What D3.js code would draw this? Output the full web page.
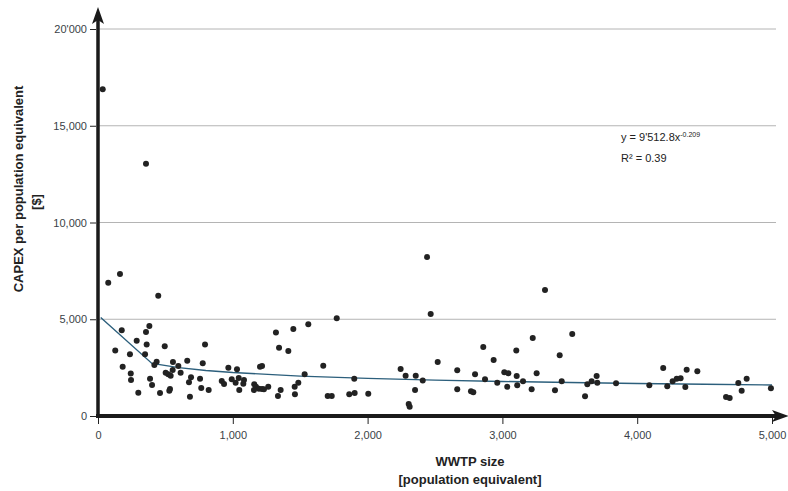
<!DOCTYPE html>
<html>
<head>
<meta charset="utf-8">
<script src="https://cdn.jsdelivr.net/npm/d3@7"></script>
<style>
  body { margin: 0; background: #fff; }
  svg { display: block; font-family: "Liberation Sans", Arial, sans-serif; }
</style>
</head>
<body>
<div id="chart"></div>
<script>
// WWTP size (population equivalent) vs CAPEX per PE ($)
const plantSize = [35, 76, 163, 356, 447, 176, 381, 356, 287, 361, 495, 794, 128, 237, 349, 183, 435, 418, 556, 596,
  662, 777, 243, 245, 386, 401, 502, 521, 539, 554, 613, 690, 675, 757, 766, 821, 299, 460, 534, 529,
  682, 967, 1031, 918, 935, 992, 1021, 1044, 1083, 1078, 1048, 1202, 1217, 1159, 1172, 1194, 1157, 1217, 1263, 1320,
  1343, 1449, 1412, 1560, 1771, 2468, 1671, 1533, 1231, 1355, 1335, 1459, 1486, 1461, 1704, 1734, 1864, 1904, 2005, 1901,
  2245, 2282, 2357, 2409, 2352, 2305, 2312, 2520, 2665, 2665, 2441, 3316, 2858, 2935, 2797, 2871, 2767, 2784, 3014, 3044,
  3106, 2962, 3036, 3110, 3153, 3103, 3225, 3254, 3217, 3390, 3425, 3440, 3518, 3613, 3630, 3662, 3699, 3704, 3843, 4090,
  4193, 4223, 4263, 4293, 4322, 4367, 4357, 4446, 4659, 4686, 4750, 4775, 4812, 4992];
const capexPerPE = [16890, 6890, 7340, 13030, 6220, 4430, 4650, 4340, 3890, 3690, 3600, 3690, 3380, 3190, 3190, 2550, 2810, 2640, 2790, 2590,
  2860, 2720, 2190, 1860, 1930, 1600, 2240, 2160, 2080, 2380, 2240, 2000, 1740, 1930, 1450, 1350, 1200, 1190, 1400, 1310,
  1000, 2500, 2410, 1810, 1650, 1900, 1720, 1960, 1860, 1670, 1340, 2550, 2590, 1640, 1510, 1410, 1340, 1400, 1510, 4310,
  3530, 4500, 3360, 4740, 5050, 5270, 2600, 2160, 1380, 1340, 1030, 1510, 1720, 1120, 1030, 1030, 1120, 1190, 1150, 1930,
  2430, 2080, 2080, 1830, 1340, 620, 480, 2790, 2360, 1380, 8220, 6510, 3570, 2900, 2160, 1900, 1280, 1230, 2260, 2210,
  2070, 1720, 1510, 1590, 1790, 3380, 4030, 2210, 1380, 1330, 3140, 1790, 4240, 1020, 1640, 1790, 2070, 1720, 1690, 1590,
  2480, 1540, 1790, 1930, 1950, 2390, 1500, 2310, 980, 930, 1710, 1310, 1930, 1430];

// power trend line y = 9512.8 x^-0.209, sampled
const trendX = [20, 400, 600, 800, 1000, 1500, 2000, 2500, 3000, 3500, 4000, 4500, 5000];
const trendY = [5087, 2718, 2498, 2352, 2245, 2063, 1943, 1854, 1785, 1728, 1680, 1640, 1604];

const xTicks = [0, 1000, 2000, 3000, 4000, 5000];
const yTicks = [0, 5000, 10000, 15000, 20000];
const yTickLabels = ["0", "5,000", "10,000", "15,000", "20'000"];

const width = 788, height = 491;
const margin = {top: 29, right: 16, bottom: 75, left: 98};

const svg = d3.select("#chart").append("svg")
    .attr("width", width)
    .attr("height", height)
    .attr("viewBox", [0, 0, width, height]);

const x = d3.scaleLinear().domain([0, 5000]).range([98, 772]);
const y = d3.scaleLinear().domain([0, 20000]).range([416, 29]);

// gridlines
svg.append("g")
  .selectAll("line")
  .data(yTicks.filter(d => d > 0))
  .join("line")
    .attr("x1", x(0))
    .attr("x2", 776)
    .attr("y1", d => y(d))
    .attr("y2", d => y(d))
    .attr("stroke", "#b4b4b4")
    .attr("stroke-width", 1);

// y axis
const yAxis = svg.append("g")
    .attr("transform", `translate(${x(0) - 2},0)`)
    .call(d3.axisLeft(y)
      .tickValues(yTicks)
      .tickSize(6)
      .tickPadding(3)
      .tickFormat((d, i) => yTickLabels[i]))
    .call(g => g.select(".domain").remove())
    .call(g => g.selectAll(".tick line").attr("stroke", "#222"))
    .call(g => g.selectAll(".tick text")
      .attr("fill", "#3a3f47")
      .attr("font-size", 11)
      .attr("font-family", "Liberation Sans, Arial, sans-serif"));

// x axis
svg.append("g")
    .attr("transform", `translate(0,${y(0) + 2})`)
    .call(d3.axisBottom(x)
      .tickValues(xTicks)
      .tickSize(6)
      .tickPadding(7)
      .tickFormat(d3.format(",")))
    .call(g => g.select(".domain").remove())
    .call(g => g.selectAll(".tick line").attr("stroke", "#222"))
    .call(g => g.selectAll(".tick text")
      .attr("fill", "#3a3f47")
      .attr("font-size", 11)
      .attr("font-family", "Liberation Sans, Arial, sans-serif"));

// thick axis lines with arrows
svg.append("line")
    .attr("x1", x(0)).attr("x2", x(0))
    .attr("y1", y(0) + 2).attr("y2", 20)
    .attr("stroke", "#1a1a1a")
    .attr("stroke-width", 3.5);
svg.append("path")
    .attr("d", `M${x(0)},7 L${x(0) - 6},24 L${x(0)},20 L${x(0) + 6},24 Z`)
    .attr("fill", "#1a1a1a");

svg.append("line")
    .attr("x1", x(0) - 2).attr("x2", 778)
    .attr("y1", y(0)).attr("y2", y(0))
    .attr("stroke", "#1a1a1a")
    .attr("stroke-width", 4);
svg.append("path")
    .attr("d", `M789,${y(0)} L772,${y(0) - 6} L776,${y(0)} L772,${y(0) + 6} Z`)
    .attr("fill", "#1a1a1a");

// trend line
const line = d3.line()
    .x((d, i) => x(trendX[i]))
    .y(d => y(d));

svg.append("path")
    .datum(trendY)
    .attr("fill", "none")
    .attr("stroke", "#2c5f7c")
    .attr("stroke-width", 1.4)
    .attr("d", line);

// points
svg.append("g")
  .selectAll("circle")
  .data(d3.range(plantSize.length))
  .join("circle")
    .attr("cx", i => x(plantSize[i]))
    .attr("cy", i => y(capexPerPE[i]))
    .attr("r", 3)
    .attr("fill", "#222");

// equation
const eq = svg.append("text")
    .attr("x", 621)
    .attr("y", 141)
    .attr("font-size", 11)
    .attr("fill", "#222");
eq.append("tspan").text("y = 9'512.8x");
eq.append("tspan")
    .attr("font-size", 7)
    .attr("dy", -4)
    .text("-0.209");

svg.append("text")
    .attr("x", 621)
    .attr("y", 162)
    .attr("font-size", 11)
    .attr("fill", "#222")
    .text("R² = 0.39");

// axis titles
svg.append("text")
    .attr("transform", "translate(23,189) rotate(-90)")
    .attr("text-anchor", "middle")
    .attr("font-size", 13)
    .attr("font-weight", "bold")
    .attr("fill", "#222")
    .text("CAPEX per population equivalent");
svg.append("text")
    .attr("transform", "translate(41,202) rotate(-90)")
    .attr("text-anchor", "middle")
    .attr("font-size", 13)
    .attr("font-weight", "bold")
    .attr("fill", "#222")
    .text("[$]");

svg.append("text")
    .attr("x", 470)
    .attr("y", 466)
    .attr("text-anchor", "middle")
    .attr("font-size", 13)
    .attr("font-weight", "bold")
    .attr("fill", "#222")
    .text("WWTP size");
svg.append("text")
    .attr("x", 470)
    .attr("y", 484)
    .attr("text-anchor", "middle")
    .attr("font-size", 13)
    .attr("font-weight", "bold")
    .attr("fill", "#222")
    .text("[population equivalent]");
</script>
</body>
</html>
